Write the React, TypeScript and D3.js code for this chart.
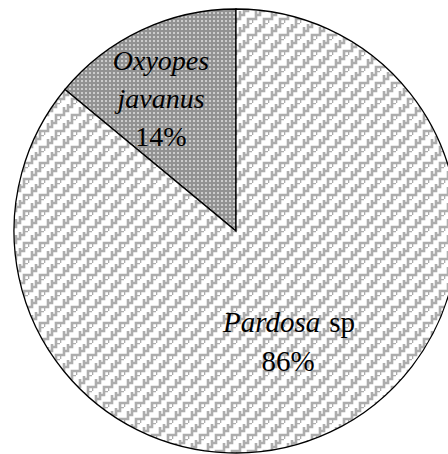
import { useEffect, useRef } from "react";
import * as d3 from "d3";

const species = ["Oxyopes javanus", "Pardosa sp"];
const shares = [14, 86];

const App = () => {
  const svgRef = useRef<SVGSVGElement>(null);

  useEffect(() => {
    document.body.style.margin = "0";
    const width = 448;
    const height = 454;
    const cx = 236;
    const cy = 231;
    const radius = 222;

    const svg = d3.select(svgRef.current).attr("width", width).attr("height", height);
    svg.selectAll("*").remove();

    const defs = svg.append("defs");

    // stepped key weave for the big slice
    const fret = defs
      .append("pattern")
      .attr("id", "fret")
      .attr("patternUnits", "userSpaceOnUse")
      .attr("width", 16)
      .attr("height", 16);
    fret.append("rect").attr("width", 16).attr("height", 16).attr("fill", "#fff");
    fret
      .append("path")
      .attr(
        "d",
        "M0,16 L0,12 L4,12 L4,8 L8,8 L8,4 L12,4 L12,0 L16,0 M4,8 L4,4 M12,16 L12,12 L16,12 M8,4 L8,1"
      )
      .attr("fill", "none")
      .attr("stroke", "#adadad")
      .attr("stroke-width", 2.6);

    // small light dots on grey for the small slice
    const dots = defs
      .append("pattern")
      .attr("id", "dots")
      .attr("patternUnits", "userSpaceOnUse")
      .attr("width", 4)
      .attr("height", 4);
    dots.append("rect").attr("width", 4).attr("height", 4).attr("fill", "#929292");
    dots.append("rect").attr("x", 1).attr("y", 1).attr("width", 2).attr("height", 2).attr("fill", "#cccccc");

    const pie = d3
      .pie<number>()
      .sort(null)
      .startAngle(-2 * Math.PI * shares[0] / 100)
      .endAngle(2 * Math.PI - 2 * Math.PI * shares[0] / 100);
    const arcs = pie(shares);
    const arc = d3.arc<d3.PieArcDatum<number>>().innerRadius(0).outerRadius(radius);

    const g = svg.append("g").attr("transform", `translate(${cx},${cy})`);
    g.selectAll("path")
      .data(arcs)
      .join("path")
      .attr("d", arc)
      .attr("fill", (d, i) => (i === 0 ? "url(#dots)" : "url(#fret)"))
      .attr("stroke", "#000")
      .attr("stroke-width", 1.3);

    const font = "'Liberation Serif', 'Times New Roman', serif";

    // Oxyopes label
    const lab1 = svg.append("text").attr("font-family", font).attr("font-size", 28).attr("text-anchor", "middle");
    const parts1 = species[0].split(" ");
    lab1.append("tspan").attr("x", 161).attr("y", 70).attr("font-style", "italic").text(parts1[0]);
    lab1.append("tspan").attr("x", 161).attr("y", 108).attr("font-style", "italic").text(parts1[1]);
    lab1.append("tspan").attr("x", 161).attr("y", 146).text(`${shares[0]}%`);

    // Pardosa label
    const parts2 = species[1].split(" ");
    const lab2 = svg.append("text").attr("font-family", font).attr("font-size", 29).attr("text-anchor", "middle");
    lab2.append("tspan").attr("x", 289).attr("y", 332).attr("font-style", "italic").text(parts2[0]);
    lab2.append("tspan").attr("dx", 9).text(parts2[1]);
    lab2.append("tspan").attr("x", 288).attr("y", 371).text(`${shares[1]}%`);
  }, []);

  return (
    <div style={{ position: "absolute", left: 0, top: 0 }}>
      <svg ref={svgRef} style={{ display: "block" }}></svg>
    </div>
  );
};

export default App;
